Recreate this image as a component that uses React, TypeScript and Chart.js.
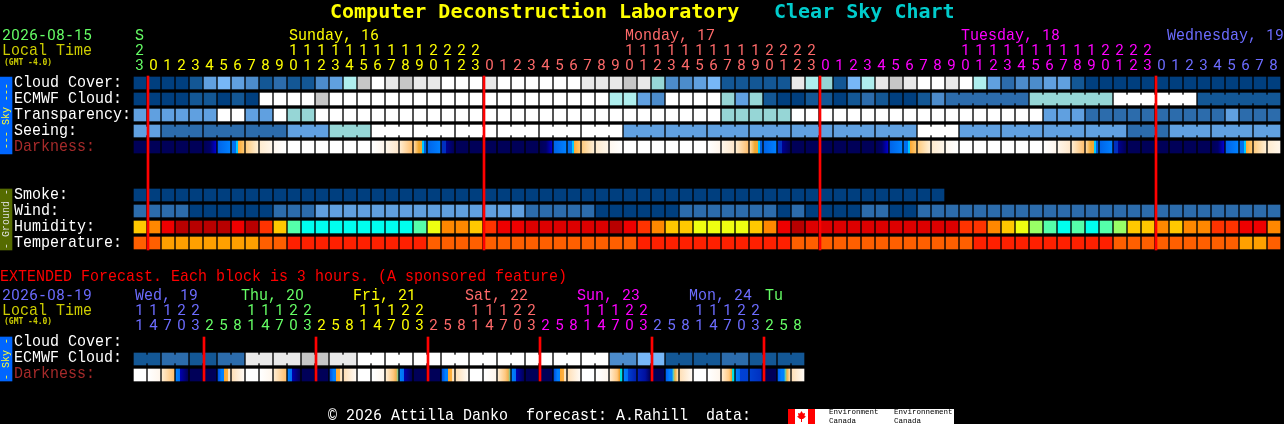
import React, { useEffect, useRef } from "react";
import { Chart, registerables } from "chart.js";

Chart.register(...registerables);

// ---------- texts ----------
const titleMain = "Computer Deconstruction Laboratory";
const titleSub = "Clear Sky Chart";
const mainDate = "2026-08-15";
const extDate = "2026-08-19";
const localTime = "Local Time";
const gmtText = "(GMT -4.0)";
const mainRowLabels = ["Cloud Cover:", "ECMWF Cloud:", "Transparency:", "Seeing:", "Darkness:"];
const groundRowLabels = ["Smoke:", "Wind:", "Humidity:", "Temperature:"];
const extRowLabels = ["Cloud Cover:", "ECMWF Cloud:", "Darkness:"];
const extendedNote = "EXTENDED Forecast. Each block is 3 hours. (A sponsored feature)";
const footerText = "\u00A9 2026 Attilla Danko  forecast: A.Rahill  data:";
const logoEn = ["Environment", "Canada"];
const logoFr = ["Environnement", "Canada"];

const mainDayLabels = ["S", "Sunday, 16", "Monday, 17", "Tuesday, 18", "Wednesday, 19"];
const mainHourUnits = "3012345678901234567890123012345678901234567890123012345678901234567890123012345678".split("");
const mainHourTens = "2          11111111112222          11111111112222          11111111112222         ".split("");
const extDayLabels = ["Wed, 19", "Thu, 20", "Fri, 21", "Sat, 22", "Sun, 23", "Mon, 24", "Tu"];
const extHourUnits = "147032581470325814703258147032581470325814703258".split("");
const extHourTens = "11122   11122   11122   11122   11122   11122    ".split("");

// index into dayColors for every column
const mainDayOfCol = [0,
  1,1,1,1,1,1,1,1,1,1,1,1,1,1,1,1,1,1,1,1,1,1,1,1,
  2,2,2,2,2,2,2,2,2,2,2,2,2,2,2,2,2,2,2,2,2,2,2,2,
  3,3,3,3,3,3,3,3,3,3,3,3,3,3,3,3,3,3,3,3,3,3,3,3,
  4,4,4,4,4,4,4,4,4];
const extDayOfCol = [4,4,4,4,4,
  0,0,0,0,0,0,0,0,
  1,1,1,1,1,1,1,1,
  2,2,2,2,2,2,2,2,
  3,3,3,3,3,3,3,3,
  4,4,4,4,4,4,4,4,
  0,0,0];

// ---------- values ----------
const cloudCover = [0,0,0,0,1,4,5,4,3,1,2,1,1,3,4,7,8,10,9,8,9,9,10,10,10,9,10,10,10,10,10,10,9,9,9,8,9,6,3,3,4,5,1,1,1,1,1,9,7,6,1,5,7,9,8,9,10,10,9,10,7,4,2,3,3,4,4,1,0,0,0,0,0,0,0,0,0,0,0,0,0,0];
const ecmwfCloud = [0,0,0,0,1,1,0,1,0,10,10,10,10,8,10,10,10,10,10,10,10,10,10,10,10,10,10,10,10,10,10,10,10,10,7,7,4,3,10,10,10,10,6,4,6,1,0,0,1,1,0,1,2,1,0,0,1,3,2,2,2,2,2,2,6,6,6,6,6,6,10,10,10,10,10,10,1,1,1,1,1,1];
const transparency = [4,4,4,4,4,4,10,10,4,4,10,6,6,10,10,10,10,10,10,10,10,10,10,10,10,10,10,10,10,10,10,10,10,10,10,10,10,10,10,10,10,10,6,6,6,6,6,10,10,10,10,10,10,10,10,10,10,10,10,10,10,10,10,10,10,4,4,4,2,2,2,2,2,2,2,2,2,2,4,2,2,2];
const seeing = [4,4,2,2,2,2,2,2,2,2,2,4,4,4,6,6,6,10,10,10,10,10,10,10,10,10,10,10,10,10,10,10,10,10,10,4,4,4,4,4,4,4,4,4,4,4,4,4,4,4,4,4,4,4,4,4,10,10,10,4,4,4,4,4,4,4,4,4,4,4,4,2,2,2,4,4,4,4,4,4,4,4];
const darkness = ["N","N","N","N","N","NB","B","DW","OC","CL","LW","W","W","W","W","W","W","WL","LC","CO","SS","B","BN","N","N","N","N","N","N","NB","B","DW","OC","CL","LW","W","W","W","W","W","W","WL","LC","CO","SS","B","BN","N","N","N","N","N","N","NB","B","DW","OC","CL","LW","W","W","W","W","W","W","WL","LC","CO","SS","B","BN","N","N","N","N","N","N","NB","B","DW","OC","CL"];
const smoke = [0,0,0,0,0,0,0,0,0,0,0,0,0,0,0,0,0,0,0,0,0,0,0,0,0,0,0,0,0,0,0,0,0,0,0,0,0,0,0,0,0,0,0,0,0,0,0,0,0,0,0,0,0,0,0,0,0,0];
const wind = [2,2,2,2,0,0,0,0,0,0,2,2,2,4,4,4,4,4,4,4,4,4,4,4,4,4,4,4,2,2,2,2,2,0,0,0,0,0,0,2,2,2,2,2,2,2,0,2,0,0,0,0,2,2,0,0,2,2,2,2,2,2,2,2,2,2,2,2,2,2,2,2,2,2,2,2,2,2,2,2,2,2];
const humidity = ["g","o","r","k","k","k","k","r","k","f","g","m","c","c","c","c","c","c","c","c","m","y","o","o","g","f","r","r","d","d","d","d","d","d","k","r","f","o","g","g","y","y","y","y","g","o","r","k","d","d","d","d","d","d","d","d","d","d","d","f","f","o","g","y","l","m","c","m","c","m","l","g","g","o","g","o","o","f","f","r","r","o"];
const temperature = [0,0,1,1,1,1,1,1,1,0,0,2,2,2,2,2,2,2,2,2,2,0,0,0,0,0,0,0,0,0,0,0,0,0,0,0,2,2,2,2,2,2,2,2,2,2,2,0,0,0,0,0,0,0,0,0,0,0,0,0,2,2,2,2,2,2,2,2,2,2,0,0,0,0,0,0,0,0,0,1,1,0];
const extEcmwf = [1,1,2,2,1,1,2,2,9,9,9,9,8,8,9,9,10,10,10,10,10,10,10,10,10,10,10,10,10,10,10,10,10,10,3,3,5,5,1,1,1,1,2,2,1,1,1,1];
const extDarkness = ["W","WL","CO","XBN","N","N","XDW","OCW","W","WL","CO","XBN","N","N","XDW","OCW","W","WL","COG","XBN","N","N","XDW","OCW","W","WL","COG","XBN","N","N","XDW","OCW","W","WL","COC","XB2","B2N","N","XDG","OCW","W","WL","COC","XB3","B3N","N","XDG","OCW"];
const midnightCols = [1, 25, 49, 73];
const extMidnightCols = [5, 13, 21, 29, 37, 45];

// ---------- styles ----------
const skyPalette = ["#003F7F","#135795","#2C6CAC","#4C8CCC","#60A0E0","#77B7F7","#96D6D6","#AEEEEE","#C6C6C6","#E9E9E9","#FFFFFF"];
const humidityPalette: Record<string,string> = { g:"#FFC800", o:"#FF8800", r:"#EE0000", k:"#B80000", f:"#FF3300", d:"#DD0000", c:"#00FFEE", m:"#55FFAA", y:"#EEFF11", l:"#99FF66" };
const tempPalette = ["#FF5F00","#FFA000","#FF2000"];
const dayColors = ["#66FF66","#FFFF00","#FF6A6A","#FF00FF","#6C6CFF"];
const extDayColors = ["#66FF66","#FFFF00","#FF6A6A","#FF00FF","#6C6CFF"];
const NAVY = "#000058";
const gradients: Record<string, [number,string][]> = {
  N: [[0,NAVY],[1,NAVY]],
  W: [[0,"#FFFFFF"],[1,"#FFFFFF"]],
  NB: [[0,NAVY],[0.5,"#000068"],[1,"#0000D0"]],
  B: [[0,"#0064E8"],[1,"#0080FF"]],
  DW: [[0,"#0070F0"],[0.33,"#0070F0"],[0.34,"#00C8FF"],[0.5,"#00C8FF"],[0.51,"#FFA830"],[1,"#FFC870"]],
  OC: [[0,"#FFCC80"],[1,"#FFEFD6"]],
  CL: [[0,"#FFECD0"],[1,"#FFF6EA"]],
  LW: [[0,"#FFF8F0"],[1,"#FFFFFF"]],
  WL: [[0,"#FFFFFF"],[1,"#FFF6EC"]],
  LC: [[0,"#FFF6EA"],[1,"#FFE8CC"]],
  CO: [[0,"#FFECD0"],[1,"#FFC070"]],
  SS: [[0,"#FFD8A0"],[0.4,"#F0A830"],[0.66,"#F0A830"],[0.67,"#00C8FF"],[0.83,"#00C8FF"],[0.84,"#0060E0"],[1,"#0060E0"]],
  BN: [[0,"#0030C0"],[0.33,"#0030C0"],[0.34,"#000090"],[1,NAVY]],
  XBN: [[0,"#0080FF"],[0.33,"#0070F0"],[0.34,"#0000B0"],[1,NAVY]],
  XDW: [[0,"#0050E0"],[0.3,"#0080FF"],[0.5,"#0080FF"],[0.51,"#FFA830"],[0.8,"#FFB040"],[0.81,"#FFE0B0"],[1,"#FFE8C8"]],
  OCW: [[0,"#FFE0B8"],[1,"#FFFAF4"]],
  COG: [[0,"#FFECD0"],[0.6,"#FFC880"],[0.85,"#F0B050"],[1,"#70C898"]],
  COC: [[0,"#FFECD0"],[0.6,"#FFC880"],[0.8,"#F0A030"],[0.81,"#00E0E0"],[1,"#00E0E0"]],
  XB2: [[0,"#0080FF"],[0.33,"#0070F0"],[0.34,"#0040D0"],[1,"#0020B0"]],
  B2N: [[0,"#0020B8"],[0.6,"#0010A0"],[1,NAVY]],
  XB3: [[0,"#0080FF"],[0.33,"#0070F0"],[0.34,"#0040D8"],[1,"#0040D0"]],
  B3N: [[0,"#0040D0"],[0.9,"#0030C0"],[1,NAVY]],
  XDG: [[0,"#0060F0"],[0.3,"#0080FF"],[0.5,"#0080FF"],[0.6,"#50D0C0"],[0.75,"#F0B040"],[1,"#FFE0B0"]],
};

// ---------- geometry (pixels) ----------
const W = 1284, H = 424;
const CELL = 12, PITCH = 14, ROW = 16;
const colX = (c: number) => 134 + PITCH * c;
const rowCenter0 = 83;
const yv = (px: number) => (px - rowCenter0) / ROW;
const xv = (px: number) => (px - 140) / PITCH;
const ROWS = { cloud: yv(83), ecmwf: yv(99), transp: yv(115), seeing: yv(131), dark: yv(147), smoke: yv(195), wind: yv(211), humid: yv(227), temp: yv(243), extEcmwf: yv(359), extDark: yv(375) };

type Pt = { x: number; y: [number, number] };
const cells = (vals: unknown[], row: number): Pt[] => vals.map((_, i) => ({ x: i, y: [row - 6 / ROW, row + 6 / ROW] }));
const conn = (pairs: number[], row: number): Pt[] => pairs.map((c) => ({ x: c + 0.5, y: [row - 4 / ROW, row + 4 / ROW] }));
const band = (px0: number, px1: number, xs: number[]): Pt[] => xs.map((x) => ({ x, y: [yv(px0), yv(px1)] }));

const cellDs = (label: string, vals: unknown[], row: number, col: (i: number) => string) => ({
  label, data: cells(vals, row), barThickness: CELL, backgroundColor: (ctx: any) => col(ctx.dataIndex),
});
// Connectors between cells of the same 3-hour block
const seeingLinks = seeing.map((_, i) => i).filter((i) => i < 81 && (i === 0 || (i >= 2 && (i - 2) % 3 !== 2)));
const ecmwfLinks = ecmwfCloud.map((_, i) => i).filter((i) => i >= 58 && i < 81 && ecmwfCloud[i] === ecmwfCloud[i + 1]);
const extLinks = extEcmwf.map((_, i) => i).filter((i) => i % 2 === 0);
const linkDs = (label: string, links: number[], vals: number[], row: number) => ({
  label, data: conn(links, row), barThickness: 2, backgroundColor: (ctx: any) => skyPalette[vals[links[ctx.dataIndex]]],
});
const gradDs = (label: string, vals: string[], row: number) => ({
  label, data: cells(vals, row), barThickness: CELL,
  backgroundColor: (ctx: any) => {
    const i = ctx.dataIndex;
    if (i === undefined) return NAVY;
    const cx = ctx.chart.scales.x.getPixelForValue(i);
    if (!Number.isFinite(cx)) return NAVY;
    const g = ctx.chart.ctx.createLinearGradient(cx - 6, 0, cx + 6, 0);
    gradients[vals[i]].forEach(([p, c]) => g.addColorStop(p, c));
    return g;
  },
});

const textPlugin = {
  id: "texts",
  afterDatasetsDraw(chart: any) {
    const c: CanvasRenderingContext2D = chart.ctx;
    const MONO = '"Liberation Mono", monospace';
    const STRETCH = 1.08;
    // Each character sits on a 9px pitch; digits use a plain zero as in the reference.
    const put = (t: string, x: number, y: number, color: string) => {
      c.fillStyle = color;
      t.split("").forEach((ch, i) => {
        const px = x + i * 9;
        if (ch >= "0" && ch <= "9") {
          c.font = "15px Roboto";
          c.fillText(ch, px + 0.3, y);
        } else if (ch !== " ") {
          c.font = `15px ${MONO}`;
          c.save();
          c.translate(px, y);
          c.scale(1, STRETCH);
          c.fillText(ch, 0, 0);
          c.restore();
        }
      });
    };
    const raw = (t: string, x: number, y: number, color: string, font: string) => {
      c.font = font; c.fillStyle = color; c.fillText(t, x, y);
    };
    c.save();
    c.textBaseline = "alphabetic"; c.textAlign = "left";
    const titleFont = 'bold 20px "DejaVu Sans Mono", monospace';
    raw(titleMain, 330, 18, "#FFFF00", titleFont);
    raw(titleSub, 774, 18, "#00CCCC", titleFont);
    const gmtFont = 'bold 8px "DejaVu Sans Mono", monospace';

    put(mainDate, 2, 40, dayColors[0]);
    put(localTime, 2, 55, "#CCCC00");
    raw(gmtText, 4, 65, "#CCCC00", gmtFont);
    mainRowLabels.forEach((t, i) => put(t, 14, 87 + i * ROW, i === 4 ? "#A52A2A" : "#FFFFFF"));
    groundRowLabels.forEach((t, i) => put(t, 14, 199 + i * ROW, "#FFFFFF"));

    const mainDayX = [135, 289, 625, 961, 1167];
    mainDayLabels.forEach((t, i) => put(t, mainDayX[i], 40, dayColors[i]));
    mainHourUnits.forEach((t, i) => put(t, colX(i) + 1, 70, dayColors[mainDayOfCol[i]]));
    mainHourTens.forEach((t, i) => { if (t !== " ") put(t, colX(i) + 1, 55, dayColors[mainDayOfCol[i]]); });

    put(extendedNote, 0, 281, "#FF0000");
    put(extDate, 2, 300, "#6C6CFF");
    put(localTime, 2, 315, "#CCCC00");
    raw(gmtText, 4, 324, "#CCCC00", gmtFont);
    extRowLabels.forEach((t, i) => put(t, 14, 346 + i * ROW, i === 2 ? "#A52A2A" : "#FFFFFF"));

    const extDayX = [135, 241, 353, 465, 577, 689, 765];
    const extLabelCol = [4, 0, 1, 2, 3, 4, 0];
    extDayLabels.forEach((t, i) => put(t, extDayX[i], 300, extDayColors[extLabelCol[i]]));
    extHourUnits.forEach((t, i) => put(t, colX(i) + 1, 330, extDayColors[extDayOfCol[i]]));
    extHourTens.forEach((t, i) => { if (t !== " ") put(t, colX(i) + 1, 315, extDayColors[extDayOfCol[i]]); });

    put(footerText, 328, 420, "#FFFFFF");

    // rotated captions of the side bands
    const rot = (t: string, x: number, y: number, color: string) => {
      c.save(); c.translate(x, y); c.rotate(-Math.PI / 2);
      c.textAlign = "center"; c.font = `10px ${MONO}`; c.fillStyle = color; c.fillText(t, 0, 0);
      c.restore();
    };
    rot("--- Sky ---", 9, 116, "#FFFF33");
    rot("- Ground -", 9, 219, "#DDDDDD");
    rot("- Sky -", 9, 359, "#FFFF33");

    // data provider logo
    c.fillStyle = "#FFFFFF"; c.fillRect(795, 409, 159, 15);
    c.fillStyle = "#FF0000"; c.fillRect(788, 409, 7, 15); c.fillRect(808, 409, 7, 15);
    c.beginPath();
    [[801.5,411],[803,413.5],[805,413],[804.5,416],[806,416.5],[803,419],[802,419],[802,422],[801,422],[801,419],[800,419],[797,416.5],[798.5,416],[798,413],[800,413.5]].forEach(([x, y], i) => (i ? c.lineTo(x, y) : c.moveTo(x, y)));
    c.closePath(); c.fill();
    const small = `7.5px ${MONO}`;
    raw(logoEn[0], 829, 414, "#000000", small); raw(logoEn[1], 829, 423, "#000000", small);
    raw(logoFr[0], 894, 414, "#000000", small); raw(logoFr[1], 894, 423, "#000000", small);
    c.restore();
  },
};

export default function App() {
  const ref = useRef<HTMLCanvasElement>(null);
  useEffect(() => {
    document.body.style.margin = "0";
    document.body.style.background = "#000";
    const datasets: any[] = [
      { label: "Midnight", data: band(76, 250, midnightCols.map((c) => c - 6 / PITCH)), barThickness: 2, backgroundColor: "#FF0000" },
      { label: "Midnight (extended)", data: band(337, 381, extMidnightCols.map((c) => c - 6 / PITCH)), barThickness: 2, backgroundColor: "#FF0000" },
      { label: "Sky band", data: band(77, 154, [xv(6)]), barThickness: 12, backgroundColor: "#0066FF" },
      { label: "Ground band", data: band(189, 250, [xv(6)]), barThickness: 12, backgroundColor: "#556B00" },
      { label: "Extended sky band", data: band(337, 381, [xv(6)]), barThickness: 12, backgroundColor: "#0066FF" },
      cellDs("Cloud Cover", cloudCover, ROWS.cloud, (i) => skyPalette[cloudCover[i]]),
      cellDs("ECMWF Cloud", ecmwfCloud, ROWS.ecmwf, (i) => skyPalette[ecmwfCloud[i]]),
      linkDs("ECMWF links", ecmwfLinks, ecmwfCloud, ROWS.ecmwf),
      cellDs("Transparency", transparency, ROWS.transp, (i) => skyPalette[transparency[i]]),
      cellDs("Seeing", seeing, ROWS.seeing, (i) => skyPalette[seeing[i]]),
      linkDs("Seeing links", seeingLinks, seeing, ROWS.seeing),
      gradDs("Darkness", darkness, ROWS.dark),
      cellDs("Smoke", smoke, ROWS.smoke, (i) => skyPalette[smoke[i]]),
      cellDs("Wind", wind, ROWS.wind, (i) => skyPalette[wind[i]]),
      cellDs("Humidity", humidity, ROWS.humid, (i) => humidityPalette[humidity[i]]),
      cellDs("Temperature", temperature, ROWS.temp, (i) => tempPalette[temperature[i]]),
      cellDs("Extended ECMWF", extEcmwf, ROWS.extEcmwf, (i) => skyPalette[extEcmwf[i]]),
      linkDs("Extended links", extLinks, extEcmwf, ROWS.extEcmwf),
      gradDs("Extended Darkness", extDarkness, ROWS.extDark),
    ];
    const chart = new Chart(ref.current!, {
      type: "bar",
      data: { datasets },
      plugins: [textPlugin],
      options: {
        responsive: false,
        animation: false,
        devicePixelRatio: 1,
        layout: { padding: 0 },
        datasets: { bar: { grouped: false, borderWidth: 0, borderSkipped: false } },
        plugins: { legend: { display: false }, tooltip: { enabled: false }, title: { display: false } },
        events: [],
        scales: {
          x: { type: "linear", display: false, min: xv(0), max: xv(W), offset: false, grid: { display: false } },
          y: { type: "linear", display: false, min: yv(0), max: yv(H), reverse: true, grid: { display: false } },
        },
      },
    } as any);
    return () => chart.destroy();
  }, []);
  return <canvas ref={ref} width={W} height={H} style={{ position: "fixed", left: 0, top: 0, width: W, height: H, display: "block", background: "#000" }} />;
}
